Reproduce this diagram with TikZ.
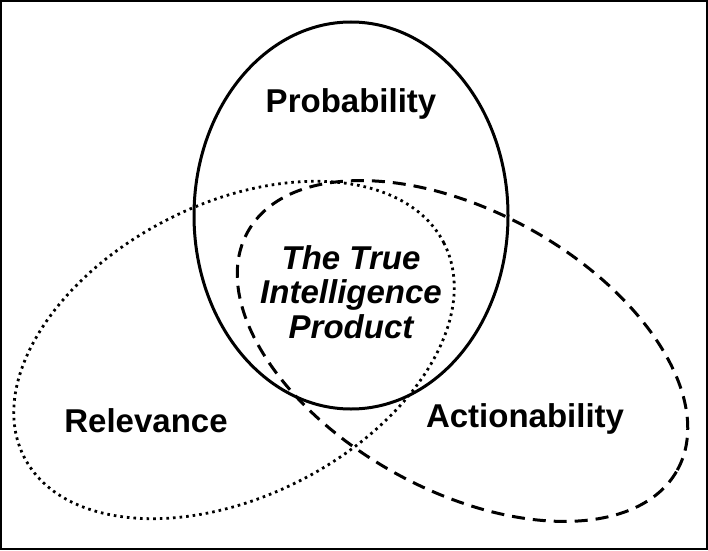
\documentclass[tikz,border=0pt]{standalone}
\usepackage{fontspec}
\setmainfont{Liberation Sans}
\begin{document}
\begin{tikzpicture}[x=1pt,y=1pt]
	% styles
	\tikzstyle{setname} += [font=\fontsize{33}{34.5}\selectfont\bfseries,inner sep=0pt]
	\tikzstyle{corename} += [font=\fontsize{33}{34.5}\selectfont\bfseries\itshape,align=center,inner sep=0pt]
	\tikzstyle{probset} += [draw,line width=3pt]
	\tikzstyle{relset} += [draw,line width=2.8pt,dash pattern=on 2.6pt off 4pt]
	\tikzstyle{actset} += [draw,line width=3pt,dash pattern=on 13pt off 8pt]
	
	% bounding box and frame
	\useasboundingbox (0,0) rectangle (708,550);
	\draw[line width=2pt] (1,1) rectangle (707,549);
	
	% the three sets
	\path[probset] (351,334.5) ellipse [x radius=157, y radius=193.5];
	\path[relset,rotate around={27:(234,200)}] (234,200) ellipse [x radius=235.6, y radius=146.4];
	\path[actset,rotate around={-29:(462.5,199)}] (462.5,199) ellipse [x radius=245.6, y radius=139.4];
	
	% names
	\node[setname,anchor=base] (prob) at (351,438) {Probability};
	\node[setname,anchor=base] (relev) at (146,118) {Relevance};
	\node[setname,anchor=base] (action) at (525,123) {Actionability};
	\node[corename] (core) at (351,258) {The True\\Intelligence\\Product};
\end{tikzpicture}
\end{document}
